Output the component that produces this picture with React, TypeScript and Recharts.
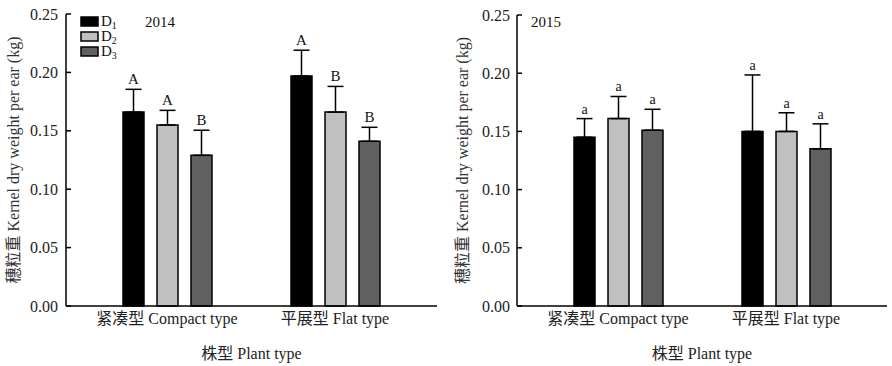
import React from 'react';
import { BarChart, Bar, XAxis, YAxis, ErrorBar, LabelList, Legend } from 'recharts';

const categories = ['紧凑型 Compact type', '平展型 Flat type'];
const seriesNames = ['D1', 'D2', 'D3'];
const seriesColors = ['#000000', '#c0c0c0', '#606060'];
const yTicks = [0, 0.05, 0.1, 0.15, 0.2, 0.25];
const xAxisTitle = '株型 Plant type';
const yAxisTitle = '穗粒重 Kernel dry weight per ear (kg)';

// 2014
const d1_2014 = [0.166, 0.197];
const d2_2014 = [0.155, 0.166];
const d3_2014 = [0.129, 0.141];
const e1_2014 = [0.0195, 0.022];
const e2_2014 = [0.0125, 0.022];
const e3_2014 = [0.0215, 0.012];
const l1_2014 = ['A', 'A'];
const l2_2014 = ['A', 'B'];
const l3_2014 = ['B', 'B'];

// 2015
const d1_2015 = [0.145, 0.15];
const d2_2015 = [0.161, 0.15];
const d3_2015 = [0.151, 0.135];
const e1_2015 = [0.016, 0.0485];
const e2_2015 = [0.019, 0.016];
const e3_2015 = [0.018, 0.0215];
const l1_2015 = ['a', 'a'];
const l2_2015 = ['a', 'a'];
const l3_2015 = ['a', 'a'];

const FONT = "'Liberation Serif', 'Times New Roman', 'Noto Sans CJK SC', serif";

function buildRows(vals: number[][], errs: number[][], letters: string[][]) {
  return categories.map((c, i) => {
    const row: any = { name: c };
    seriesNames.forEach((s, k) => {
      row[s] = vals[k][i];
      row['e' + s] = [0, errs[k][i]];
      row['l' + s] = letters[k][i];
    });
    return row;
  });
}

const rows2014 = buildRows([d1_2014, d2_2014, d3_2014], [e1_2014, e2_2014, e3_2014], [l1_2014, l2_2014, l3_2014]);
const rows2015 = buildRows([d1_2015, d2_2015, d3_2015], [e1_2015, e2_2015, e3_2015], [l1_2015, l2_2015, l3_2015]);

function makeLetter(vals: number[], errs: number[], fontSize: number) {
  return (props: any) => {
    const vb = props.viewBox && props.viewBox.width != null ? props.viewBox : props;
    const x = Number(vb.x), y = Number(vb.y), w = Number(vb.width), h = Number(vb.height);
    const i = props.index ?? 0;
    const v = vals[i];
    const e = errs[i];
    const ppu = Math.abs(h) / v;
    const top = y - e * ppu;
    return (
      <text x={x + w / 2} y={top - 5} textAnchor="middle" fontSize={fontSize} fontFamily={FONT} fill="#111">
        {props.value}
      </text>
    );
  };
}

const renderLegend = (props: any) => {
  const payload = props.payload || [];
  return (
    <svg width={60} height={48} style={{ display: 'block' }}>
      {payload.map((p: any, i: number) => {
        const name = String(p.value);
        return (
          <g key={name}>
            <rect x={2} y={3 + i * 15} width={17} height={9} fill={p.color} stroke="#000" strokeWidth={1.5} />
            <text x={22} y={12 + i * 15} fontSize={15} fontFamily={FONT} fill="#111">
              {name.charAt(0)}
              <tspan fontSize={10} dy={3}>{name.slice(1)}</tspan>
            </text>
          </g>
        );
      })}
    </svg>
  );
};

function makeYLabel(xPos: number) {
  return (props: any) => {
    const vb = props.viewBox || {};
    const cy = Number(vb.y) + Number(vb.height) / 2;
    return (
      <text
        x={xPos}
        y={cy}
        transform={`rotate(-90, ${xPos}, ${cy})`}
        textAnchor="middle"
        dominantBaseline="central"
        fontSize={16}
        fontFamily={FONT}
        fill="#333"
      >
        {yAxisTitle}
      </text>
    );
  };
}

const xLabel = (props: any) => {
  const vb = props.viewBox || {};
  const cx = Number(vb.x) + Number(vb.width) / 2;
  return (
    <text x={cx} y={Number(vb.y) + 53} textAnchor="middle" fontSize={16} fontFamily={FONT} fill="#222">
      {xAxisTitle}
    </text>
  );
};

function Panel(props: {
  rows: any[];
  vals: number[][];
  errs: number[][];
  marginTop: number;
  marginRight: number;
  yWidth: number;
  padL: number;
  padR: number;
  labelX: number;
  tickMargin: number;
  letterSize: number;
  legend: boolean;
}) {
  const { rows, vals, errs } = props;
  return (
    <BarChart
      width={446}
      height={366}
      data={rows}
      margin={{ top: props.marginTop, right: props.marginRight, bottom: 0, left: 0 }}
      barSize={21}
      barGap={13}
    >
      <XAxis
        dataKey="name"
        padding={{ left: props.padL, right: props.padR }}
        tickLine={false}
        tickSize={0}
        tickMargin={7}
        height={60}
        interval={0}
        axisLine={{ stroke: '#000', strokeWidth: 1.5 }}
        tick={{ fill: '#222', fontSize: 16, fontFamily: FONT }}
        label={xLabel}
      />
      <YAxis
        type="number"
        domain={[0, 0.25]}
        ticks={yTicks}
        interval={0}
        tickFormatter={(v: number) => v.toFixed(2)}
        width={props.yWidth}
        tickSize={-5}
        tickMargin={props.tickMargin}
        axisLine={{ stroke: '#000', strokeWidth: 1.5 }}
        tickLine={{ stroke: '#000', strokeWidth: 1.5 }}
        tick={{ fill: '#222', fontSize: 16, fontFamily: FONT }}
        label={makeYLabel(props.labelX)}
      />
      {props.legend && (
        <Legend
          layout="horizontal"
          verticalAlign="middle"
          align="center"
          wrapperStyle={{ left: 79, top: 14, width: 60, height: 48 }}
          content={renderLegend}
        />
      )}
      {seriesNames.map((s, k) => (
        <Bar
          key={s}
          dataKey={s}
          name={s}
          fill={seriesColors[k]}
          stroke="#000"
          strokeWidth={1.5}
          isAnimationActive={false}
        >
          <ErrorBar dataKey={'e' + s} width={8} stroke="#000" strokeWidth={1.5} direction="y" />
          <LabelList dataKey={'l' + s} content={makeLetter(vals[k], errs[k], props.letterSize)} />
        </Bar>
      ))}
    </BarChart>
  );
}

export default function App() {
  return (
    <div style={{ position: 'absolute', left: 0, top: 0, width: 892, height: 366, background: '#fff', fontFamily: FONT }}>
      <div style={{ position: 'absolute', left: 0, top: 0 }}>
        <Panel
          rows={rows2014}
          vals={[d1_2014, d2_2014, d3_2014]}
          errs={[e1_2014, e2_2014, e3_2014]}
          marginTop={14}
          marginRight={9}
          yWidth={66}
          padL={17}
          padR={18}
          labelX={13}
          tickMargin={13}
          letterSize={15}
          legend={true}
        />
      </div>
      <div style={{ position: 'absolute', left: 446, top: 0 }}>
        <Panel
          rows={rows2015}
          vals={[d1_2015, d2_2015, d3_2015]}
          errs={[e1_2015, e2_2015, e3_2015]}
          marginTop={15}
          marginRight={5}
          yWidth={71}
          padL={17}
          padR={17}
          labelX={16}
          tickMargin={12}
          letterSize={14}
          legend={false}
        />
      </div>
      <div style={{ position: 'absolute', left: 145, top: 12, fontSize: 15, color: '#111', lineHeight: '20px' }}>2014</div>
      <div style={{ position: 'absolute', left: 531, top: 12, fontSize: 15, color: '#111', lineHeight: '20px' }}>2015</div>
    </div>
  );
}
